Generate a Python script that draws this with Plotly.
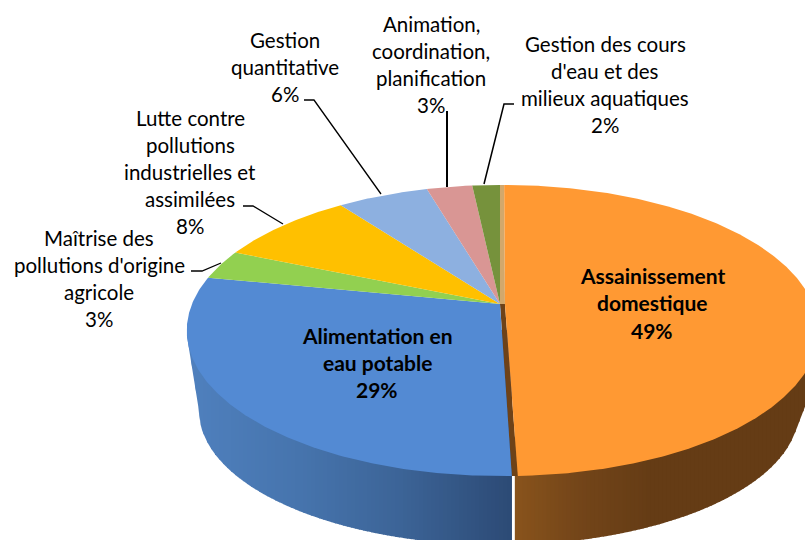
import numpy as np
import plotly.graph_objects as go

# ---- data ----
categories = ["Assainissement domestique", "Alimentation en eau potable",
              "Maîtrise des pollutions d'origine agricole",
              "Lutte contre pollutions industrielles et assimilées",
              "Gestion quantitative", "Animation, coordination, planification",
              "Gestion des cours d'eau et des milieux aquatiques"]
values = [49.5, 28.6, 3.3, 8.5, 5.6, 2.8, 1.7]
percent_labels = ["49%", "29%", "3%", "8%", "6%", "3%", "2%"]
name_lines = [["Assainissement", "domestique"], ["Alimentation en", "eau potable"],
              ["Maîtrise des", "pollutions d'origine", "agricole"],
              ["Lutte contre", "pollutions", "industrielles et", "assimilées"],
              ["Gestion", "quantitative"], ["Animation,", "coordination,", "planification"],
              ["Gestion des cours", "d'eau et des", "milieux aquatiques"]]

# ---- style and layout ----
W, H = 805, 540
colors = ["#FF9933", "#538AD3", "#92D050", "#FFC000", "#8DB0E0", "#D99694", "#76923C"]
CX, CY, R, B, K = 500.0, 304.0, 308.0, 140.7, 0.182   # projection of the top face
EXPLODE = 0.016                                       # first slice pulled out
BOT_CX, BOT_CY, BOT_A, BOT_B = 499.0, 411.0, 300.0, 134.0  # lower rim
ELL_CY, ELL_A = 330.0, 313.0
RIM_RIGHT_X, RIM_RIGHT_Y, RIM_RIGHT_SLOPE = 793.0, 438.0, 2.6
label_pos = [(652, 275, 27.5), (377, 335, 27), (99, 238, 27), (190, 118, 27),
             (285, 39.5, 27), (431, 24, 27), (605, 44, 27)]
leaders = [None, None,
           [(191, 271), (202, 271), (221, 263)],
           [(243, 206), (253, 206), (283, 224)],
           [(304, 100), (314, 100), (381, 194)],
           [(447, 111), (447, 187)],
           [(514, 104), (504, 104), (484, 184)]]
leader_w = [0, 0, 1.3, 1.3, 1.3, 2, 1.5]
FONT = "Lato"
FONT_SIZE = 20.5
FONT_SIZE_BOLD = 21


def project(theta_deg, radius=1.0, shift=0.0):
    t = np.radians(theta_deg)
    u = radius * np.sin(t) + shift
    v = -radius * np.cos(t)
    d = 1 - K * v
    return CX + R * u / d, CY + B * v / d


def lerp_color(x, stops):
    xs = [s[0] for s in stops]
    rgb = [np.interp(x, xs, [int(s[1][i:i + 2], 16) for s in stops]) for i in (1, 3, 5)]
    return "rgb(%d,%d,%d)" % tuple(round(c) for c in rgb)


def rim_bottom(x):
    if x > RIM_RIGHT_X:
        return RIM_RIGHT_Y - (x - RIM_RIGHT_X) * RIM_RIGHT_SLOPE
    dx = abs(x - BOT_CX)
    if dx <= BOT_A:
        return BOT_CY + BOT_B * np.sqrt(1 - (dx / BOT_A) ** 2)
    return BOT_CY - (dx - BOT_A) / (ELL_A - BOT_A) * (BOT_CY - ELL_CY)


edges = np.concatenate([[0], np.cumsum(values)]) * 3.6
fig = go.Figure()


def poly(xs, ys, color):
    fig.add_trace(go.Scatter(x=xs, y=ys, mode="lines", fill="toself", fillcolor=color,
                             line=dict(width=0, color=color), hoverinfo="skip", showlegend=False))


blue_stops = [(187, "#4F80BE"), (300, "#4674AD"), (400, "#3C6497"), (512, "#2C4A75")]
orange_stops = [(517, "#88531C"), (580, "#734519"), (650, "#653C15"), (805, "#653C15")]
blue_end = project(edges[1])[0]
GAP = 3.0


def wall(x0, x1, stops, step=4.0):
    x = x0
    while x < x1:
        xe = min(x + step, x1)
        xr = min(xe + 0.8, x1)
        xs = np.linspace(x, xr, 4)
        bottoms = [rim_bottom(v) for v in xs]
        poly(list(xs) + [xr, x], bottoms + [ELL_CY, ELL_CY], lerp_color((x + xe) / 2, stops))
        x = xe


wall(CX - ELL_A, blue_end, blue_stops)
wall(blue_end + GAP, W + 9, orange_stops)

# inner wall slivers of the pulled-out slice
ax, ay = project(0, 0)
bx, by = project(edges[1])
ox, oy = project(0, 0, EXPLODE)
qx, qy = project(edges[1], shift=EXPLODE)
poly([ax, bx, qx, ox], [ay, by, qy, oy], "#6E4218")
tx, ty = project(0)
rx, ry = project(0, shift=EXPLODE)
poly([ax, tx, rx, ox], [ay, ty, ry, oy], "#D2A86C")

# top faces
for i, c in enumerate(colors):
    th = np.arange(edges[i], edges[i + 1], 0.5)
    th = np.append(th, edges[i + 1])
    s = EXPLODE if i == 0 else 0.0
    px, py = project(th, shift=s)
    a0, a1 = project(0, 0, s)
    poly(np.concatenate([[a0], px, [a0]]), np.concatenate([[a1], py, [a1]]), c)

# leader lines
for pts, w in zip(leaders, leader_w):
    if pts:
        fig.add_trace(go.Scatter(x=[p[0] for p in pts], y=[p[1] for p in pts], mode="lines",
                                 line=dict(color="#000000", width=w), hoverinfo="skip", showlegend=False))

# labels
for i, lines in enumerate(name_lines):
    cx, y0, dy = label_pos[i]
    bold = i < 2
    for j, t in enumerate(lines + [percent_labels[i]]):
        fig.add_annotation(x=cx, y=y0 + j * dy, text=("<b>%s</b>" % t) if bold else t, showarrow=False,
                           xanchor="center", yanchor="middle",
                           font=dict(family=FONT, size=FONT_SIZE_BOLD if bold else FONT_SIZE, color="#000000"))

fig.update_layout(width=W, height=H, margin=dict(l=0, r=0, t=0, b=0), autosize=False,
                  paper_bgcolor="white", plot_bgcolor="white", showlegend=False,
                  xaxis=dict(range=[0, W], visible=False, fixedrange=True),
                  yaxis=dict(range=[H, 0], visible=False, fixedrange=True))
fig.write_html("out.html", config={"displayModeBar": False},
               post_script="document.body.style.margin='0';")
